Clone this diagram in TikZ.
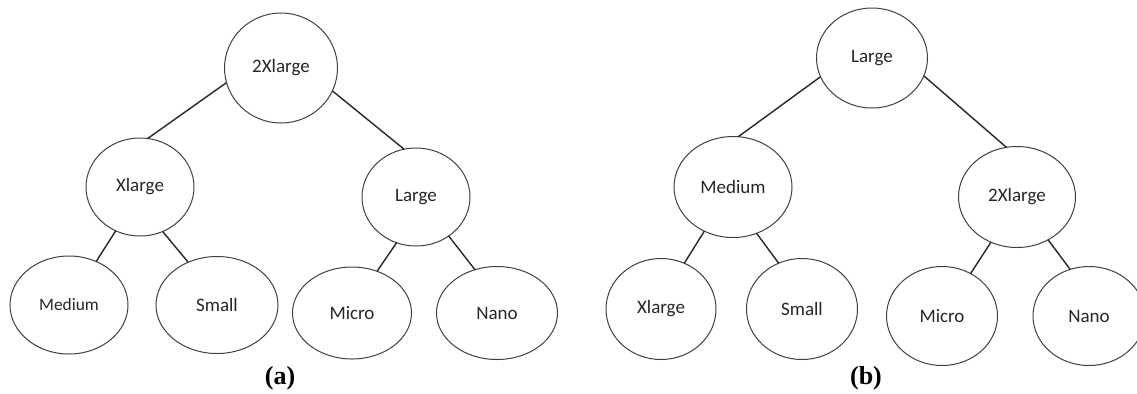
\documentclass[tikz,border=0pt]{standalone}
\usepackage{fontspec}
\setmainfont{Carlito}
\newfontfamily\capfont{Liberation Serif}
\usetikzlibrary{shapes.geometric}

\tikzset{
	vm/.style 2 args={ellipse, draw=black!75, line width=0.5pt, inner sep=0pt, outer sep=0pt,
		minimum width=#1*0.5pt, minimum height=#2*0.5pt,
		text=black!85, font=\fontsize{9.5}{11}\selectfont},
	link/.style={draw=black!85, line width=0.7pt},
	subcap/.style={font=\capfont\bfseries\fontsize{13}{15}\selectfont}
}

\begin{document}
\begin{tikzpicture}[x=0.5pt, y=-0.5pt]
				\useasboundingbox (0,0) rectangle (1137,393);
				% tree (a)
				\node[vm={113}{110}] (a2xl) at (281,68) {2Xlarge};
				\node[vm={108}{98}] (axl) at (140,187) {Xlarge};
				\node[vm={108}{98}] (alg) at (416,197) {Large};
				\node[vm={118}{98}, font=\fontsize{8.7}{10}\selectfont] (amed) at (69,305) {Medium};
				\node[vm={122}{97}] (asm) at (217,305) {Small};
				\node[vm={119}{92}] (amic) at (352,313) {Micro};
				\node[vm={121}{93}] (anan) at (497,313) {Nano};
				\foreach \u/\v in {a2xl.195/axl.81, a2xl.336/alg.104, axl.241/amed.58,
						axl.297/asm.124, alg.247/amic.59, alg.310/anan.117}
					\draw[link] (\u) -- (\v);
				\node[subcap] (capa) at (280,378) {(a)};
				% tree (b)
				\node[vm={111}{100}] (blg) at (872,58) {Large};
				\node[vm={118}{101}] (bmed) at (733,187) {Medium};
				\node[vm={117}{101}] (b2xl) at (1017,197) {2Xlarge};
				\node[vm={110}{101}] (bxl) at (661,309) {Xlarge};
				\node[vm={111}{101}] (bsm) at (802,309) {Small};
				\node[vm={111}{99}] (bmic) at (942,316) {Micro};
				\node[vm={112}{99}] (bnan) at (1089,316) {Nano};
				\foreach \u/\v in {blg.200/bmed.84, blg.341/b2xl.102, bmed.237/bxl.63,
						bmed.297/bsm.117, b2xl.240/bmic.56, b2xl.306/bnan.112}
					\draw[link] (\u) -- (\v);
				\node[subcap] (capb) at (866,378) {(b)};
			\end{tikzpicture}
\end{document}
